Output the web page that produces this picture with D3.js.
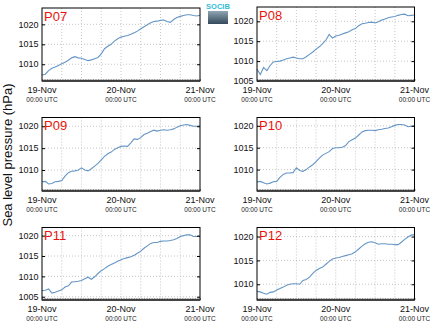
<!doctype html>
<html>
<head>
<meta charset="utf-8">
<style>
  body { margin: 0; background: #fff; }
  svg { display: block; font-family: "Liberation Sans", Arial, sans-serif; }
  .grid line { stroke: #b8b8b8; stroke-width: 0.8; stroke-dasharray: 1,2; }
</style>
<script src="https://d3js.org/d3.v7.min.js"></script>
</head>
<body>
<svg width="434" height="327"></svg>
<script>

// hourly sea level pressure (hPa), 19-Nov 00:00 UTC to 21-Nov 00:00 UTC
var hours = d3.range(0, 49);

var p07 = [1007.3,1007.5,1008.4,1009.0,1009.3,1009.7,1010.1,1010.5,1011.0,1011.6,1011.9,1011.6,1011.5,1011.2,1010.9,1011.1,1011.4,1011.7,1012.6,1013.9,1014.5,1015.0,1015.8,1016.4,1016.8,1017.0,1017.2,1017.5,1017.9,1018.3,1018.9,1019.4,1019.9,1020.4,1020.7,1020.8,1021.0,1021.1,1020.7,1020.5,1021.2,1021.7,1022.0,1022.2,1022.4,1022.4,1022.2,1022.1,1022.3];
var p08 = [1008.0,1006.6,1008.4,1007.6,1008.9,1009.8,1009.9,1010.0,1010.3,1010.6,1010.8,1011.0,1010.8,1010.6,1010.6,1011.1,1011.7,1012.3,1013.0,1013.6,1014.4,1015.3,1016.7,1015.8,1016.3,1016.5,1016.8,1017.1,1017.4,1017.9,1018.2,1018.9,1019.4,1019.5,1019.7,1019.8,1019.6,1019.9,1020.3,1020.6,1020.9,1021.1,1021.2,1021.5,1021.7,1021.8,1021.4,1021.5,1021.6];
var p09 = [1007.3,1007.4,1006.8,1006.9,1007.3,1007.4,1007.6,1008.6,1009.4,1009.7,1009.8,1010.0,1010.5,1010.0,1009.8,1010.3,1010.9,1011.5,1012.3,1013.1,1013.7,1014.1,1014.7,1015.1,1015.4,1015.5,1015.4,1016.2,1017.1,1017.0,1017.4,1018.1,1018.4,1018.8,1019.1,1018.9,1019.1,1019.2,1019.1,1019.2,1019.4,1019.8,1020.1,1020.3,1020.4,1020.2,1020.0,1020.0,1020.1];
var p10 = [1007.2,1007.3,1007.0,1006.7,1006.9,1007.2,1007.3,1008.2,1008.9,1009.2,1009.2,1009.3,1010.4,1009.8,1009.6,1010.0,1010.6,1011.1,1011.8,1012.6,1013.3,1013.7,1014.1,1014.8,1015.0,1015.0,1015.1,1015.5,1016.4,1016.8,1017.2,1017.9,1018.6,1018.9,1019.0,1019.0,1018.9,1019.1,1019.2,1019.4,1019.5,1019.8,1020.1,1020.3,1020.3,1020.2,1019.8,1019.9,1020.0];
var p11 = [1006.5,1006.6,1006.9,1005.9,1006.1,1006.4,1006.7,1007.4,1007.7,1008.6,1008.7,1008.8,1009.0,1009.4,1009.8,1009.3,1009.9,1010.7,1011.4,1011.9,1012.5,1012.9,1013.3,1013.7,1014.1,1014.4,1014.6,1014.8,1015.2,1015.7,1016.2,1016.9,1017.5,1018.1,1018.3,1018.3,1018.6,1018.7,1018.7,1018.8,1019.0,1019.3,1019.8,1020.0,1020.2,1020.2,1019.8,1019.8,1019.8];
var p12 = [1008.5,1008.4,1008.1,1007.9,1008.3,1008.4,1008.8,1009.1,1009.4,1009.8,1010.0,1010.1,1010.1,1010.0,1010.8,1011.0,1011.5,1012.3,1012.9,1013.3,1013.6,1014.2,1014.8,1015.3,1015.5,1015.6,1015.8,1016.0,1016.2,1016.4,1016.8,1017.4,1018.0,1018.5,1018.8,1018.9,1018.7,1018.4,1018.5,1018.5,1018.4,1018.4,1018.3,1018.3,1018.8,1019.4,1019.9,1020.3,1020.4];

var stations = ["P07", "P08", "P09", "P10", "P11", "P12"];
var series = [p07, p08, p09, p10, p11, p12];
var yTicks = [1005, 1010, 1015, 1020];
var dayLabels = ["19-Nov", "20-Nov", "21-Nov"];

var svg = d3.select("svg");

var t0 = new Date(Date.UTC(2015, 10, 19));
var times = hours.map(function(h) { return d3.utcHour.offset(t0, h); });
var t1 = times[times.length - 1];

// panel boxes and y ranges
var panels = [
  {x0: 42,  x1: 200,   y0: 8,     y1: 81,  dom: [1005.8, 1024.1]},
  {x0: 257, x1: 414.5, y0: 7,     y1: 81,  dom: [1005.0, 1023.6]},
  {x0: 42,  x1: 200,   y0: 117.5, y1: 191, dom: [1005.2, 1022.0]},
  {x0: 257, x1: 414.5, y0: 117.5, y1: 191, dom: [1005.1, 1021.9]},
  {x0: 42,  x1: 200,   y0: 227.5, y1: 300, dom: [1004.2, 1022.0]},
  {x0: 257, x1: 414.5, y0: 227.5, y1: 300, dom: [1006.7, 1021.9]}
];

panels.forEach(function(p, i) {
  var w = p.x1 - p.x0, h = p.y1 - p.y0;
  var x = d3.scaleUtc().domain([t0, t1]).range([0, w]);
  var y = d3.scaleLinear().domain(p.dom).range([h, 0]);
  var ticks = yTicks.filter(function(v) { return v >= p.dom[0] && v <= p.dom[1]; });
  var sixHours = d3.utcHour.every(6).range(t0, d3.utcHour.offset(t1, 1));

  var g = svg.append("g").attr("transform", "translate(" + p.x0 + "," + p.y0 + ")");

  // dotted grid
  var grid = g.append("g").attr("class", "grid");
  grid.selectAll(".gx").data(sixHours.slice(1, -1)).enter().append("line")
      .attr("x1", function(d) { return x(d); }).attr("x2", function(d) { return x(d); })
      .attr("y1", 0).attr("y2", h);
  grid.selectAll(".gy").data(ticks).enter().append("line")
      .attr("x1", 0).attr("x2", w)
      .attr("y1", function(d) { return y(d); }).attr("y2", function(d) { return y(d); });

  // pressure trace
  var line = d3.line()
      .x(function(d, k) { return x(times[k]); })
      .y(function(d) { return y(d); });
  g.append("path").datum(series[i])
      .attr("d", line)
      .attr("fill", "none")
      .attr("stroke", "#6596c6")
      .attr("stroke-width", 1.1);

  // dense minor ticks along the bottom
  g.append("g").attr("transform", "translate(0," + h + ")")
      .call(d3.axisTop(x).ticks(d3.utcMinute.every(30)).tickSize(2).tickFormat(""))
      .call(function(a) { a.select(".domain").remove(); a.selectAll("line").attr("stroke", "#777").attr("stroke-width", 0.8); });

  // y ticks inside on both sides
  g.append("g").call(d3.axisRight(y).tickValues(ticks).tickSize(3).tickFormat(""))
      .call(function(a) { a.select(".domain").remove(); });
  g.append("g").attr("transform", "translate(" + w + ",0)")
      .call(d3.axisLeft(y).tickValues(ticks).tickSize(3).tickFormat(""))
      .call(function(a) { a.select(".domain").remove(); });

  // y tick labels
  g.selectAll(".ylab").data(ticks).enter().append("text")
      .attr("x", -3.5).attr("y", function(d) { return y(d); })
      .attr("dy", "0.35em")
      .attr("text-anchor", "end")
      .attr("font-size", "9px")
      .attr("fill", "#111")
      .text(function(d) { return d; });

  // frame
  g.append("rect").attr("width", w).attr("height", h)
      .attr("fill", "none").attr("stroke", "#000").attr("stroke-width", 1);
  g.append("line").attr("x1", 0).attr("x2", w).attr("y1", h).attr("y2", h)
      .attr("stroke", "#333").attr("stroke-width", 1.4);

  // day labels
  var days = d3.utcDay.range(t0, d3.utcHour.offset(t1, 1));
  var xl = g.selectAll(".xlab").data(days).enter().append("g")
      .attr("transform", function(d) { return "translate(" + x(d) + "," + h + ")"; });
  xl.append("text").attr("y", 11.5).attr("text-anchor", "middle")
      .attr("font-size", "9px").attr("fill", "#111")
      .text(function(d, k) { return dayLabels[k]; });
  xl.append("text").attr("y", 20.5).attr("text-anchor", "middle")
      .attr("font-size", "6.5px").attr("fill", "#222")
      .text("00:00 UTC");

  // station name
  g.append("text").attr("x", 2).attr("y", 12.5)
      .attr("font-size", "13px").attr("fill", "#e8140c")
      .text(stations[i]);
});

svg.append("text")
   .attr("transform", "translate(12,155) rotate(-90)")
   .attr("text-anchor", "middle")
   .attr("font-size", "13px")
   .attr("fill", "#111")
   .text("Sea level pressure (hPa)");

// SOCIB badge
var defs = svg.append("defs");
var grad = defs.append("linearGradient").attr("id", "badge")
   .attr("x1", 0).attr("y1", 0).attr("x2", 0).attr("y2", 1);
grad.append("stop").attr("offset", "0%").attr("stop-color", "#8fa5b2");
grad.append("stop").attr("offset", "100%").attr("stop-color", "#34495a");
svg.append("rect").attr("x", 208).attr("y", 11).attr("width", 20).attr("height", 13)
   .attr("fill", "url(#badge)");
svg.append("text").attr("x", 218).attr("y", 9).attr("text-anchor", "middle")
   .attr("font-size", "7.5px").attr("font-weight", "bold").attr("fill", "#33bcd6")
   .text("SOCIB");

</script>
</body>
</html>
